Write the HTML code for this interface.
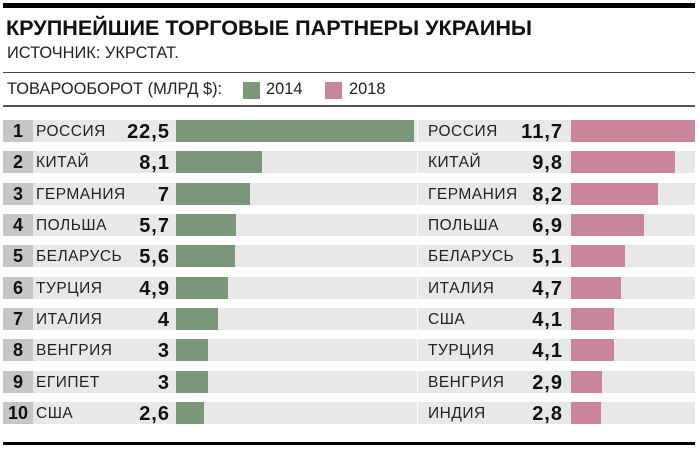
<!DOCTYPE html>
<html><head><meta charset="utf-8"><style>
body{margin:0;width:700px;height:449px;background:#fff;position:relative;overflow:hidden;font-family:"Liberation Sans","DejaVu Sans",sans-serif;color:#111}
.a{position:absolute}
.row{position:absolute;height:22px;background:#e8e8e8}
.num{position:absolute;left:3px;width:30px;height:22px;background:#c6c6c6;font-weight:bold;font-size:18px;line-height:23px;text-align:center}
.nm{position:absolute;font-size:15.5px;line-height:24px;letter-spacing:0.5px;color:#222}
.v{position:absolute;font-weight:bold;font-size:20px;line-height:22px;text-align:right;width:80px;letter-spacing:1px}
.g{position:absolute;height:22px;background:#7a977a}
.p{position:absolute;height:22px;background:#c98699}
</style></head><body>
<div class="a" style="left:3px;top:3px;width:692px;height:5px;background:#000"></div>
<div class="a" style="left:6px;top:15px;font-size:21.6px;font-weight:bold;letter-spacing:0px">КРУПНЕЙШИЕ ТОРГОВЫЕ ПАРТНЕРЫ УКРАИНЫ</div>
<div class="a" style="left:7px;top:44px;font-size:16.4px;color:#222">ИСТОЧНИК: УКРСТАТ.</div>
<div class="a" style="left:3px;top:72px;width:692px;height:1px;background:#444"></div>
<div class="a" style="left:7px;top:80px;font-size:16.4px;color:#222">ТОВАРООБОРОТ (МЛРД $):</div>
<div class="a" style="left:243px;top:82px;width:17px;height:17px;background:#7a977a"></div>
<div class="a" style="left:266px;top:80px;font-size:16.4px;color:#222">2014</div>
<div class="a" style="left:325px;top:82px;width:17px;height:17px;background:#c98699"></div>
<div class="a" style="left:349px;top:80px;font-size:16.4px;color:#222">2018</div>
<div class="a" style="left:3px;top:105px;width:692px;height:2px;background:#555"></div>
<div class="a" style="left:3px;top:442px;width:692px;height:3px;background:#000"></div>
<div id="rows"></div>
<script>
var L=[["РОССИЯ","22,5",22.5],["КИТАЙ","8,1",8.1],["ГЕРМАНИЯ","7",7],["ПОЛЬША","5,7",5.7],["БЕЛАРУСЬ","5,6",5.6],["ТУРЦИЯ","4,9",4.9],["ИТАЛИЯ","4",4],["ВЕНГРИЯ","3",3],["ЕГИПЕТ","3",3],["США","2,6",2.6]];
var R=[["РОССИЯ","11,7",11.7],["КИТАЙ","9,8",9.8],["ГЕРМАНИЯ","8,2",8.2],["ПОЛЬША","6,9",6.9],["БЕЛАРУСЬ","5,1",5.1],["ИТАЛИЯ","4,7",4.7],["США","4,1",4.1],["ТУРЦИЯ","4,1",4.1],["ВЕНГРИЯ","2,9",2.9],["ИНДИЯ","2,8",2.8]];
var h="",k=10.58;
for(var i=0;i<10;i++){var y=Math.round(120+i*31.33);
h+='<div class="row" style="left:3px;top:'+y+'px;width:414px"></div>';
h+='<div class="row" style="left:418px;top:'+y+'px;width:277px"></div>';
h+='<div class="num" style="top:'+y+'px">'+(i+1)+'</div>';
h+='<div class="nm" style="left:36px;top:'+y+'px">'+L[i][0]+'</div>';
h+='<div class="v" style="left:90px;top:'+(y+1)+'px">'+L[i][1]+'</div>';
h+='<div class="g" style="left:176px;top:'+y+'px;width:'+Math.round(L[i][2]*k)+'px"></div>';
h+='<div class="nm" style="left:428px;top:'+y+'px">'+R[i][0]+'</div>';
h+='<div class="v" style="left:483px;top:'+(y+1)+'px">'+R[i][1]+'</div>';
h+='<div class="p" style="left:571px;top:'+y+'px;width:'+Math.round(R[i][2]*k)+'px"></div>';}
document.getElementById("rows").innerHTML=h;
</script>
</body></html>
